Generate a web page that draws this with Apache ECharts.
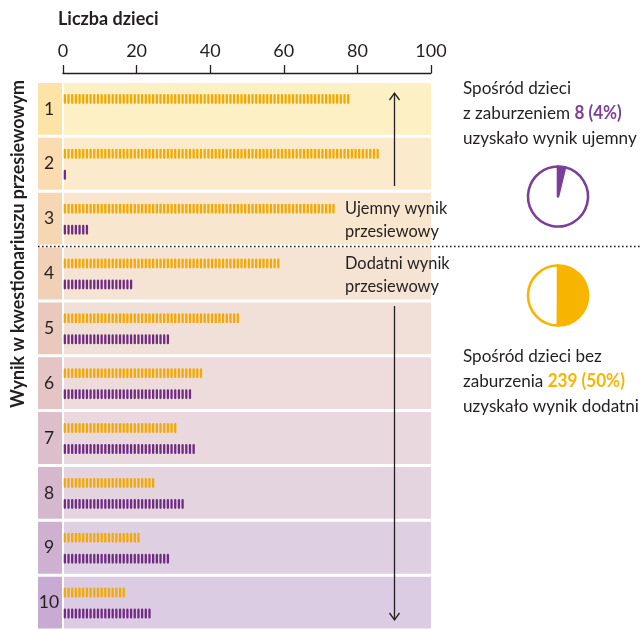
<!DOCTYPE html>
<html>
<head>
<meta charset="utf-8">
<script src="https://cdn.jsdelivr.net/npm/echarts@6/dist/echarts.min.js"></script>
<style>
  html, body { margin: 0; padding: 0; background: #fff; }
  #chart { width: 642px; height: 630px; }
</style>
</head>
<body>
<div id="chart"></div>
<script>
// Screening questionnaire score (rows) and the number of children per score
const scores = ['1', '2', '3', '4', '5', '6', '7', '8', '9', '10'];
const childrenWithoutDisorder = [78, 86, 74, 59, 48, 38, 31, 25, 21, 17];
const childrenWithDisorder = [0, 1, 7, 19, 29, 35, 36, 33, 29, 24];
const countTicks = [0, 20, 40, 60, 80, 100];
// scores 1-3 count as a negative screening result, 4-10 as positive
const negativeScoreCount = 3;

// Summary figures derived from the rows
const sum = a => a.reduce((s, v) => s + v, 0);
const totalWithDisorder = sum(childrenWithDisorder);
const totalWithoutDisorder = sum(childrenWithoutDisorder);
const negWithDisorder = sum(childrenWithDisorder.slice(0, negativeScoreCount));
const posWithoutDisorder = sum(childrenWithoutDisorder.slice(negativeScoreCount));
const negWithDisorderPct = Math.round(100 * negWithDisorder / totalWithDisorder);
const posWithoutDisorderPct = Math.round(100 * posWithoutDisorder / totalWithoutDisorder);

// Styling
const FONT = "'Lato', sans-serif";
const INK = '#231f20';
const ORANGE = '#f3a900';
const PURPLE = '#6f2c82';
const TEXT_ORANGE = '#f7b500';
const TEXT_PURPLE = '#7b3f98';
const bandColors = ['#fdf0c4', '#fbeacb', '#f8e6cf', '#f5e3d3', '#f1e0d8', '#eedbdb', '#e9d8de', '#e4d4e0', '#dfcfe2', '#dbcbe3'];
const cellColors = ['#fde3a6', '#fbdcb0', '#f6d7b4', '#f1d0b8', '#e9c9be', '#e4c4c5', '#dcbfca', '#d5b8ce', '#ceb1d1', '#c7abd3'];

const chart = echarts.init(document.getElementById('chart'), null, { renderer: 'canvas' });

// One small pill-shaped mark per child, placed at consecutive unit steps on the count axis
function childMarks(color, dy) {
  return function (params, api) {
    const row = api.value(0);
    const n = api.value(1);
    const children = [];
    for (let i = 0; i < n; i++) {
      const p = api.coord([i + 0.5, row]);
      children.push({
        type: 'rect',
        shape: { x: p[0] - 1.15, y: p[1] + dy - 5, width: 2.3, height: 10, r: 1.15 },
        style: { fill: color }
      });
    }
    return { type: 'group', children };
  };
}

// Row background: a tinted label cell plus the wide band behind the marks
function rowBand(params, api) {
  const row = api.value(0);
  const a = api.coord([0, row]);
  const b = api.coord([countTicks[countTicks.length - 1], row]);
  const h = api.size([0, 1])[1];
  const top = a[1] - h / 2 + 1.5;
  const ht = h - 3;
  return {
    type: 'group',
    children: [
      { type: 'rect', shape: { x: 38, y: top, width: a[0] - 1 - 38, height: ht }, style: { fill: cellColors[row] } },
      { type: 'rect', shape: { x: a[0] + 1, y: top, width: b[0] - a[0] - 1, height: ht }, style: { fill: bandColors[row] } }
    ]
  };
}

// Vertical arrow: shaft from y1 to the tip at y2, with an open chevron head
function arrow(x, y1, y2) {
  const d = y2 < y1 ? 1 : -1;
  return [
    { type: 'line', z: 10, shape: { x1: x, y1: y1, x2: x, y2: y2 }, style: { stroke: INK, lineWidth: 1.3 } },
    { type: 'polyline', z: 10, shape: { points: [[x - 5, y2 + 7 * d], [x, y2], [x + 5, y2 + 7 * d]] }, style: { stroke: INK, lineWidth: 1.3, fill: null } }
  ];
}

const richText = (color) => ({ fontFamily: FONT, fontSize: 18, fill: color, fontWeight: 'bold' });

const option = {
  animation: false,
  grid: { left: 63, top: 81.5, width: 368, height: 550, containLabel: false },
  xAxis: {
    type: 'value',
    position: 'top',
    min: countTicks[0],
    max: countTicks[countTicks.length - 1],
    interval: countTicks[1] - countTicks[0],
    offset: 8.5,
    axisLine: { show: true, lineStyle: { color: INK, width: 1.3 } },
    axisTick: { show: true, length: 8, lineStyle: { color: INK, width: 1.3 } },
    axisLabel: { color: INK, fontFamily: FONT, fontSize: 18, margin: 13 },
    splitLine: { show: false }
  },
  yAxis: {
    type: 'category',
    data: scores,
    inverse: true,
    z: 5,
    axisLine: { show: false },
    axisTick: { show: false },
    axisLabel: { color: INK, fontFamily: FONT, fontSize: 17.5, margin: 14, align: 'center' }
  },
  series: [
    {
      type: 'custom', z: 1, silent: true,
      renderItem: rowBand,
      encode: { y: 0 },
      data: scores.map((s, i) => [i])
    },
    {
      type: 'custom', z: 3, silent: true,
      renderItem: childMarks(ORANGE, -10),
      encode: { y: 0, x: 1 },
      data: childrenWithoutDisorder.map((v, i) => [i, v])
    },
    {
      type: 'custom', z: 3, silent: true,
      renderItem: childMarks(PURPLE, 11),
      encode: { y: 0, x: 1 },
      data: childrenWithDisorder.map((v, i) => [i, v])
    },
    {
      type: 'pie', silent: true, center: [558, 196.5], radius: [0, 30],
      startAngle: 90, clockwise: true,
      label: { show: false }, labelLine: { show: false },
      itemStyle: { borderColor: TEXT_PURPLE, borderWidth: 2.6 },
      data: [
        { value: negWithDisorder, itemStyle: { color: TEXT_PURPLE } },
        { value: totalWithDisorder - negWithDisorder, itemStyle: { color: '#ffffff' } }
      ]
    },
    {
      type: 'pie', silent: true, center: [558, 295.5], radius: [0, 30],
      startAngle: 90, clockwise: true,
      label: { show: false }, labelLine: { show: false },
      itemStyle: { borderColor: TEXT_ORANGE, borderWidth: 2.6 },
      data: [
        { value: posWithoutDisorder, itemStyle: { color: TEXT_ORANGE } },
        { value: totalWithoutDisorder - posWithoutDisorder, itemStyle: { color: '#ffffff' } }
      ]
    }
  ],
  graphic: [
    {
      type: 'text', x: 58, y: 10, z: 10,
      style: { text: 'Liczba dzieci', fontFamily: FONT, fontSize: 18, fontWeight: 'bold', fill: INK }
    },
    {
      type: 'text', x: 18, y: 244, rotation: Math.PI / 2, scaleX: 0.94, z: 10,
      style: { text: 'Wynik w kwestionariuszu przesiewowym', fontFamily: FONT, fontSize: 19, fontWeight: 'bold', fill: INK, align: 'center', verticalAlign: 'middle' }
    },
    {
      type: 'line', z: 10,
      shape: { x1: 38, y1: 246.5, x2: 642, y2: 246.5 },
      style: { stroke: INK, lineWidth: 1.6, lineDash: [1.6, 2.4] }
    },
    { type: 'group', z: 10, children: arrow(394.5, 186, 93) },
    { type: 'group', z: 10, children: arrow(394.5, 306, 620) },
    {
      type: 'text', x: 345, y: 197, z: 10, scaleX: 0.91,
      style: { text: 'Ujemny wynik\nprzesiewowy', fontFamily: FONT, fontSize: 18, fill: INK, lineHeight: 23 }
    },
    {
      type: 'text', x: 345, y: 252, z: 10, scaleX: 0.91,
      style: { text: 'Dodatni wynik\nprzesiewowy', fontFamily: FONT, fontSize: 18, fill: INK, lineHeight: 23 }
    },
    {
      type: 'text', x: 463, y: 76, z: 10, scaleX: 0.95,
      style: {
        text: 'Spośród dzieci\nz zaburzeniem {p|' + negWithDisorder + ' (' + negWithDisorderPct + '%)}\nuzyskało wynik ujemny',
        fontFamily: FONT, fontSize: 18, fill: INK, lineHeight: 25,
        rich: { p: richText(TEXT_PURPLE) }
      }
    },
    {
      type: 'text', x: 463, y: 344, z: 10, scaleX: 0.95,
      style: {
        text: 'Spośród dzieci bez\nzaburzenia {o|' + posWithoutDisorder + ' (' + posWithoutDisorderPct + '%)}\nuzyskało wynik dodatni',
        fontFamily: FONT, fontSize: 18, fill: INK, lineHeight: 25,
        rich: { o: richText(TEXT_ORANGE) }
      }
    }
  ]
};

chart.setOption(option);
</script>
</body>
</html>
